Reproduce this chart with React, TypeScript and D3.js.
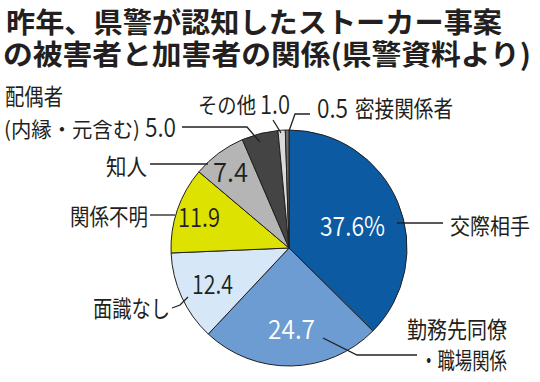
import React from "react";
import * as d3 from "d3";

const categories = ["交際相手", "勤務先同僚・職場関係", "面識なし", "関係不明", "知人", "配偶者（内縁・元含む）", "その他", "密接関係者"];
const values = [37.6, 24.7, 12.4, 11.9, 7.4, 5.0, 1.0, 0.5];
const valueLabels = ["37.6%", "24.7", "12.4", "11.9", "7.4", "5.0", "1.0", "0.5"];
const colors = ["#0b5aa2", "#6c9cd2", "#d6e7f7", "#dde200", "#b5b5b5", "#444444", "#dadada", "#6e6e6e"];

const W = 540, H = 382;
const cx = 289, cy = 248, R = 118;
const FONT = "'Noto Sans CJK JP', 'Noto Sans', sans-serif";

export default function App() {
  const pie = d3.pie<number>().sort(null).value((d) => d);
  const arcs = pie(values);
  const arc = d3.arc<d3.PieArcDatum<number>>().innerRadius(0).outerRadius(R);
  const line = d3.line();

  const leaders: [number, number][][] = [
    [[397, 223], [443, 223]],
    [[323, 338], [357, 355], [417, 355]],
    [[188, 297], [180, 305], [172, 308]],
    [[175, 215], [150, 215]],
    [[208, 164], [150, 164]],
    [[260, 142], [247, 127], [182, 127]],
    [[281, 133], [273, 120]],
    [[289, 131], [295, 114], [310, 114]],
  ];

  const num = { fontSize: 27, fontWeight: 350, lengthAdjust: "spacingAndGlyphs" } as const;
  const lab = { fontSize: 23, lengthAdjust: "spacingAndGlyphs" } as const;

  return (
    <svg width={W} height={H} style={{ position: "absolute", left: 0, top: 0, background: "#fff" }}>
      <rect width={W} height={H} fill="#fff" />
      <text x={6} y={33} fontFamily={FONT} fontWeight={700} fontSize={28.5} fill="#231f20" textLength={496} lengthAdjust="spacingAndGlyphs">昨年、県警が認知したストーカー事案</text>
      <text x={3} y={65} fontFamily={FONT} fontWeight={700} fontSize={28.5} fill="#231f20" textLength={528} lengthAdjust="spacingAndGlyphs">の被害者と加害者の関係(県警資料より)</text>

      <g transform={`translate(${cx},${cy})`}>
        {arcs.map((a, i) => (
          <path key={i} d={arc(a) || ""} fill={colors[i]} stroke="#231f20" strokeWidth={1} />
        ))}
      </g>

      {leaders.map((pts, i) => (
        <path key={i} d={line(pts) || ""} fill="none" stroke="#231f20" strokeWidth={1.3} />
      ))}

      <g fontFamily={FONT} fill="#231f20">
        <text x={320} y={236} fill="#fff" {...num} textLength={65}>{valueLabels[0]}</text>
        <text x={268} y={339} fill="#fff" {...num} textLength={47}>{valueLabels[1]}</text>
        <text x={192} y={294} {...num} textLength={41}>{valueLabels[2]}</text>
        <text x={178} y={227} {...num} textLength={42}>{valueLabels[3]}</text>
        <text x={213} y={182} {...num} textLength={35}>{valueLabels[4]}</text>
        <text x={145} y={137} {...num} textLength={31}>{valueLabels[5]}</text>
        <text x={260} y={114} {...num} textLength={30}>{valueLabels[6]}</text>
        <text x={317} y={118} {...num} textLength={31}>{valueLabels[7]}</text>

        <text x={450} y={234} {...lab} fontSize={22} textLength={80}>交際相手</text>
        <text x={407} y={338} {...lab} textLength={100}>勤務先同僚</text>
        <text x={420} y={369} {...lab} textLength={87}>・職場関係</text>
        <text x={93} y={317} {...lab} textLength={77}>面識なし</text>
        <text x={70} y={225} {...lab} textLength={78}>関係不明</text>
        <text x={106} y={175} {...lab} textLength={41}>知人</text>
        <text x={5} y={105} {...lab} textLength={58}>配偶者</text>
        <text x={4} y={137} {...lab} fontSize={21} textLength={136}>(内縁・元含む)</text>
        <text x={198} y={113} {...lab} fontSize={22} textLength={58}>その他</text>
        <text x={355} y={117} {...lab} textLength={98}>密接関係者</text>
      </g>
    </svg>
  );
}
